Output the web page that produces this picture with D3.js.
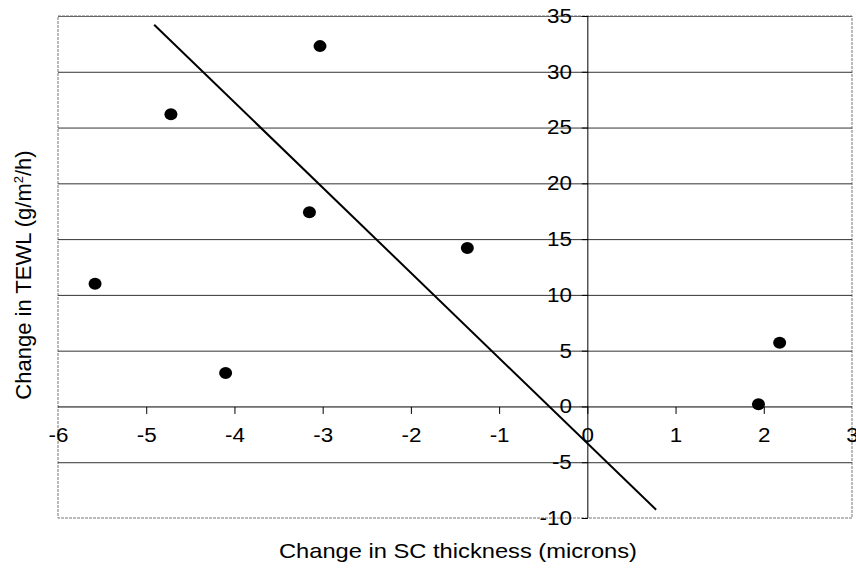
<!DOCTYPE html>
<html>
<head>
<meta charset="utf-8">
<script src="https://cdn.jsdelivr.net/npm/d3@7"></script>
<style>
  body { margin: 0; background: #fff; }
  text { font-family: "Liberation Sans", Arial, sans-serif; fill: #000; }
</style>
</head>
<body>
<div id="chart"></div>
<script>
// measured points: change in SC thickness vs change in TEWL
var thickness = [-5.58, -4.72, -4.10, -3.15, -3.03, -1.36, 1.94, 2.18];
var tewl = [11.0, 26.2, 3.0, 17.4, 32.3, 14.2, 0.2, 5.7];
// linear trend line
var trendSlope = -7.64;
var trendIntercept = -3.3;
var trendRange = [-4.91, 0.78];
var xTicks = [-6, -5, -4, -3, -2, -1, 0, 1, 2, 3];
var yTicks = [-10, -5, 0, 5, 10, 15, 20, 25, 30, 35];

var width = 856, height = 569;
var plotL = 58, plotR = 852, plotT = 16, plotB = 518;

var svg = d3.select("#chart")
    .append("svg")
    .attr("width", width)
    .attr("height", height);

var x = d3.scaleLinear().domain([-6, 3]).range([plotL, plotR]);
var y = d3.scaleLinear().domain([-10, 35]).range([plotB, plotT]);

// plot border (grey, dotted like the scan)
svg.append("rect")
    .attr("x", plotL)
    .attr("y", plotT)
    .attr("width", plotR - plotL)
    .attr("height", plotB - plotT)
    .attr("fill", "none")
    .attr("stroke", "#777")
    .attr("stroke-dasharray", "3,1");

// horizontal gridlines
svg.append("g")
    .selectAll("line")
    .data(yTicks.filter(function(d) { return d != -10 && d != 0; }))
    .enter()
    .append("line")
    .attr("x1", plotL)
    .attr("x2", plotR)
    .attr("y1", function(d) { return y(d) + 0.5; })
    .attr("y2", function(d) { return y(d) + 0.5; })
    .attr("stroke", function(d) { return d == 35 ? "#666" : "#333"; })
    .attr("stroke-width", 1);

// scan is a bit wider than tall, stretch labels to match
function widen(sel, k) {
    sel.each(function() {
        var w = this.getComputedTextLength();
        d3.select(this)
            .attr("textLength", w * k)
            .attr("lengthAdjust", "spacingAndGlyphs");
    });
}

// x axis at y = 0
var xAxis = d3.axisBottom(x)
    .tickValues(xTicks)
    .tickSize(7)
    .tickPadding(14)
    .tickFormat(function(d) { return String(d); });

var gx = svg.append("g")
    .attr("transform", "translate(0," + (y(0) + 0.5) + ")")
    .call(xAxis);
gx.select(".domain").attr("stroke", "#000").attr("d", "M" + plotL + ",0H" + plotR);
gx.selectAll(".tick line").attr("stroke", "#000");
gx.selectAll("text")
    .attr("font-size", "20px")
    .attr("font-family", "Liberation Sans, Arial, sans-serif")
    .attr("fill", "#000")
    .call(widen, 1.12);
gx.selectAll(".tick").filter(function(d) { return d == -6 || d == 3; }).select("line").remove();

// y axis at x = 0
var yAxis = d3.axisLeft(y)
    .tickValues(yTicks)
    .tickSize(6)
    .tickPadding(10)
    .tickFormat(function(d) { return String(d); });

var gy = svg.append("g")
    .attr("transform", "translate(" + (x(0) + 0.5) + ",0)")
    .call(yAxis);
gy.select(".domain").attr("stroke", "#000").attr("d", "M0," + plotT + "V" + plotB);
gy.selectAll(".tick line").attr("stroke", "#000");
gy.selectAll("text")
    .attr("font-size", "20px")
    .attr("font-family", "Liberation Sans, Arial, sans-serif")
    .attr("fill", "#000")
    .call(widen, 1.12);

// trend line
svg.append("line")
    .attr("x1", x(trendRange[0]))
    .attr("y1", y(trendSlope * trendRange[0] + trendIntercept))
    .attr("x2", x(trendRange[1]))
    .attr("y2", y(trendSlope * trendRange[1] + trendIntercept))
    .attr("stroke", "#000")
    .attr("stroke-width", 2);

// data points
svg.append("g")
    .selectAll("ellipse")
    .data(thickness)
    .enter()
    .append("ellipse")
    .attr("cx", function(d) { return x(d); })
    .attr("cy", function(d, i) { return y(tewl[i]); })
    .attr("rx", 6.5)
    .attr("ry", 6)
    .attr("fill", "#000");

// axis titles
svg.append("text")
    .attr("x", 458)
    .attr("y", 558)
    .attr("text-anchor", "middle")
    .attr("font-size", "21px")
    .attr("textLength", 358)
    .attr("lengthAdjust", "spacingAndGlyphs")
    .text("Change in SC thickness (microns)");

var yt = svg.append("text")
    .attr("transform", "translate(31," + ((plotT + plotB) / 2 + 8) + ") rotate(-90)")
    .attr("text-anchor", "middle")
    .attr("font-size", "22px");
yt.append("tspan").text("Change in TEWL (g/m");
yt.append("tspan").attr("font-size", "13px").attr("dy", "-8").text("2");
yt.append("tspan").attr("dy", "8").text("/h)");
</script>
</body>
</html>
